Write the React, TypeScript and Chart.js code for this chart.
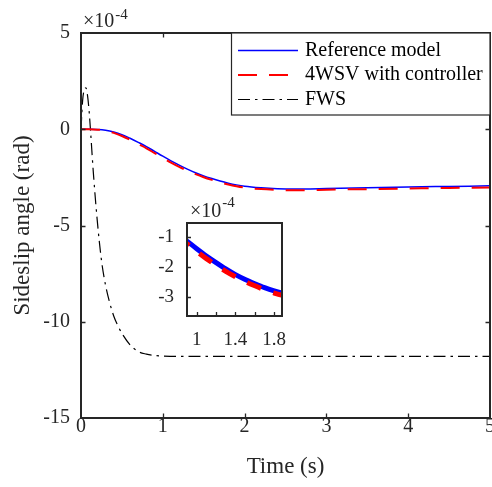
import React, { useEffect, useRef } from 'react';
import { Chart, registerables } from 'chart.js';

Chart.register(...registerables);

const FONT = "'Liberation Serif', 'Times New Roman', serif";
const AXIS_COLOR = '#262626';

// ---- data (sideslip angle in units of 1e-4 rad) ----
const modelTime = [0, 0.1, 0.2, 0.3, 0.4, 0.5, 0.6, 0.7, 0.8, 0.9, 1.0, 1.1, 1.2, 1.3, 1.4, 1.5, 1.6, 1.7, 1.8, 1.9, 2.0, 2.2, 2.4, 2.6, 2.8, 3.0, 3.5, 4.0, 4.5, 5.0];
const referenceModel = [0, 0, -0.01, -0.05, -0.14, -0.28, -0.47, -0.68, -0.9, -1.15, -1.4, -1.64, -1.86, -2.07, -2.26, -2.42, -2.56, -2.69, -2.8, -2.89, -2.96, -3.04, -3.09, -3.11, -3.1, -3.08, -3.04, -3.0, -2.97, -2.94];
const withController = [0, 0, -0.02, -0.07, -0.19, -0.35, -0.55, -0.77, -0.99, -1.24, -1.49, -1.73, -1.95, -2.15, -2.33, -2.49, -2.63, -2.76, -2.87, -2.96, -3.03, -3.11, -3.15, -3.17, -3.16, -3.14, -3.11, -3.08, -3.05, -3.03];
const fwsTime = [0, 0.02, 0.04, 0.06, 0.08, 0.1, 0.12, 0.15, 0.2, 0.25, 0.3, 0.35, 0.4, 0.45, 0.5, 0.6, 0.7, 0.8, 0.9, 1.0, 1.2, 1.5, 2.0, 3.0, 4.0, 5.0];
const fws = [0, 1.5, 2.05, 2.15, 1.75, 0.9, -0.3, -2.2, -4.8, -6.8, -8.1, -9.0, -9.7, -10.2, -10.6, -11.2, -11.55, -11.68, -11.75, -11.78, -11.8, -11.8, -11.8, -11.8, -11.8, -11.8];

const seriesLabels = ['Reference model', '4WSV with controller', 'FWS'];

// ---- ticks ----
const mainXTicks = [0, 1, 2, 3, 4, 5];
const mainYTicks = [-15, -10, -5, 0, 5];
const insetXTicks = [1, 1.2, 1.4, 1.6, 1.8];
const insetXTickLabels = ['1', '', '1.4', '', '1.8'];
const insetYTicks = [-3, -2, -1];
const exponentBase = '\u00d710';
const exponentPower = '-4';

const toPoints = (xs: number[], ys: number[]) => xs.map((x, i) => ({ x, y: ys[i] }));

function framePlugin(frameWidth: number, tickLen: number, allSides: boolean) {
  return {
    id: 'frame',
    afterDraw(chart: any) {
      const { ctx, chartArea: a, scales } = chart;
      ctx.save();
      ctx.strokeStyle = AXIS_COLOR;
      ctx.lineWidth = 1.3;
      ctx.beginPath();
      scales.x.ticks.forEach((t: any) => {
        const px = Math.round(scales.x.getPixelForValue(t.value)) + 0.5;
        if (px > a.left + 2 && px < a.right - 2) {
          ctx.moveTo(px, a.bottom);
          ctx.lineTo(px, a.bottom - tickLen);
          if (allSides) {
            ctx.moveTo(px, a.top);
            ctx.lineTo(px, a.top + tickLen);
          }
        }
      });
      scales.y.ticks.forEach((t: any) => {
        const py = Math.round(scales.y.getPixelForValue(t.value)) + 0.5;
        if (py > a.top + 2 && py < a.bottom - 2) {
          ctx.moveTo(a.left, py);
          ctx.lineTo(a.left + tickLen, py);
          if (allSides) {
            ctx.moveTo(a.right, py);
            ctx.lineTo(a.right - tickLen, py);
          }
        }
      });
      ctx.stroke();
      ctx.lineWidth = frameWidth;
      ctx.strokeRect(a.left, a.top, a.right - a.left, a.bottom - a.top);
      ctx.restore();
    },
  };
}

function exponentPlugin(x: number, baseY: number, supY: number, baseSize: number, supSize: number) {
  return {
    id: 'exponent',
    afterDraw(chart: any) {
      const { ctx } = chart;
      ctx.save();
      ctx.fillStyle = AXIS_COLOR;
      ctx.textAlign = 'left';
      ctx.textBaseline = 'alphabetic';
      ctx.font = `${baseSize}px ${FONT}`;
      ctx.fillText(exponentBase, x, baseY);
      const w = ctx.measureText(exponentBase).width;
      ctx.font = `${supSize}px ${FONT}`;
      ctx.fillText(exponentPower, x + w + 1, supY);
      ctx.restore();
    },
  };
}

const legendPlugin = {
  id: 'boxLegend',
  afterDraw(chart: any) {
    const { ctx } = chart;
    const left = 231, top = 33, right = 490, bottom = 115;
    ctx.save();
    ctx.fillStyle = '#ffffff';
    ctx.fillRect(left, top, right - left, bottom - top);
    ctx.strokeStyle = AXIS_COLOR;
    ctx.lineWidth = 1.2;
    ctx.strokeRect(left + 0.5, top, right - left - 0.5, bottom - top);
    const rowY = [50.5, 75, 99.5];
    seriesLabels.forEach((label, i) => {
      const ds = chart.data.datasets.find((d: any) => d.label === label);
      const y = rowY[i];
      ctx.beginPath();
      ctx.strokeStyle = ds.borderColor;
      ctx.lineWidth = ds.borderWidth;
      ctx.setLineDash(ds.borderDash || []);
      ctx.moveTo(238, y);
      ctx.lineTo(298, y);
      ctx.stroke();
      ctx.setLineDash([]);
      ctx.fillStyle = '#000000';
      ctx.font = `20px ${FONT}`;
      ctx.textAlign = 'left';
      ctx.textBaseline = 'middle';
      ctx.fillText(label, 305, y);
    });
    ctx.restore();
  },
};

const noPad = (s: any) => { s.paddingLeft = 0; s.paddingRight = 0; s.paddingTop = 0; s.paddingBottom = 0; };

export default function App() {
  const mainRef = useRef<HTMLCanvasElement>(null);
  const insetRef = useRef<HTMLCanvasElement>(null);

  useEffect(() => {
    const tickFont = { family: FONT, size: 20, lineHeight: 1 };
    const main = new Chart(mainRef.current as HTMLCanvasElement, {
      type: 'line',
      data: {
        datasets: [
          {
            label: seriesLabels[1],
            data: toPoints(modelTime, withController),
            borderColor: '#FF0000',
            borderWidth: 2,
            borderDash: [19, 12],
            pointRadius: 0,
            order: 0,
            cubicInterpolationMode: 'monotone',
          },
          {
            label: seriesLabels[0],
            data: toPoints(modelTime, referenceModel),
            borderColor: '#0000FF',
            borderWidth: 1.5,
            pointRadius: 0,
            order: 1,
            cubicInterpolationMode: 'monotone',
          },
          {
            label: seriesLabels[2],
            data: toPoints(fwsTime, fws),
            borderColor: '#000000',
            borderWidth: 1.2,
            borderDash: [12, 5, 2.5, 5],
            pointRadius: 0,
            order: 2,
            cubicInterpolationMode: 'monotone',
          },
        ] as any,
      },
      options: {
        animation: false,
        responsive: false,
        devicePixelRatio: 1,
        events: [],
        layout: { padding: { top: 33, right: 2, left: 0, bottom: 0 } },
        plugins: { legend: { display: false }, tooltip: { enabled: false } },
        scales: {
          x: {
            type: 'linear',
            min: 0,
            max: 5,
            afterBuildTicks: (s: any) => { s.ticks = mainXTicks.map((v) => ({ value: v })); },
            afterFit: (s: any) => { s.height = 69; noPad(s); },
            ticks: { font: tickFont, color: AXIS_COLOR, padding: -1, maxRotation: 0, autoSkip: false, callback: (v: any) => String(v) },
            grid: { display: false, drawTicks: false, tickLength: 0 },
            border: { display: false },
            title: { display: true, text: 'Time (s)', font: { family: FONT, size: 23 }, color: AXIS_COLOR, padding: { top: 0, bottom: 6 } },
          },
          y: {
            type: 'linear',
            min: -15,
            max: 5,
            afterBuildTicks: (s: any) => { s.ticks = mainYTicks.map((v) => ({ value: v })); },
            afterFit: (s: any) => { s.width = 81; noPad(s); },
            ticks: { font: tickFont, color: AXIS_COLOR, padding: 11, autoSkip: false, callback: (v: any) => String(v) },
            grid: { display: false, drawTicks: false, tickLength: 0 },
            border: { display: false },
            title: { display: true, text: 'Sideslip angle (rad)', font: { family: FONT, size: 23 }, color: AXIS_COLOR, padding: { top: 9, bottom: 0 } },
          },
        },
      } as any,
      plugins: [framePlugin(2, 4.5, true), legendPlugin, exponentPlugin(83, 27, 18.5, 20, 15)],
    });

    const insetFont = { family: FONT, size: 19, lineHeight: 1 };
    const inset = new Chart(insetRef.current as HTMLCanvasElement, {
      type: 'line',
      data: {
        datasets: [
          {
            label: seriesLabels[1],
            data: toPoints(modelTime, withController),
            borderColor: '#FF0000',
            borderWidth: 5,
            borderDash: [15, 13],
            pointRadius: 0,
            order: 0,
            cubicInterpolationMode: 'monotone',
          },
          {
            label: seriesLabels[0],
            data: toPoints(modelTime, referenceModel),
            borderColor: '#0000FF',
            borderWidth: 5,
            pointRadius: 0,
            order: 1,
            cubicInterpolationMode: 'monotone',
          },
        ] as any,
      },
      options: {
        animation: false,
        responsive: false,
        devicePixelRatio: 1,
        events: [],
        layout: { padding: { top: 33, right: 8, left: 0, bottom: 0 } },
        plugins: { legend: { display: false }, tooltip: { enabled: false } },
        scales: {
          x: {
            type: 'linear',
            min: 0.9,
            max: 1.88,
            afterBuildTicks: (s: any) => { s.ticks = insetXTicks.map((v) => ({ value: v })); },
            afterFit: (s: any) => { s.height = 44; noPad(s); },
            ticks: {
              font: insetFont, color: AXIS_COLOR, padding: 14.5, maxRotation: 0, autoSkip: false,
              callback: (v: any) => { const i = insetXTicks.findIndex((t) => Math.abs(t - v) < 1e-6); return i >= 0 ? insetXTickLabels[i] : ''; },
            },
            grid: { display: false, drawTicks: false, tickLength: 0 },
            border: { display: false },
          },
          y: {
            type: 'linear',
            min: -3.63,
            max: -0.55,
            afterBuildTicks: (s: any) => { s.ticks = insetYTicks.map((v) => ({ value: v })); },
            afterFit: (s: any) => { s.width = 57; noPad(s); },
            ticks: { font: insetFont, color: AXIS_COLOR, padding: 13, autoSkip: false, callback: (v: any) => String(v) },
            grid: { display: false, drawTicks: false, tickLength: 0 },
            border: { display: false },
          },
        },
      } as any,
      plugins: [framePlugin(2, 4, false), exponentPlugin(60, 26.5, 16.7, 20, 15)],
    });

    return () => { main.destroy(); inset.destroy(); };
  }, []);

  return (
    <div style={{ position: 'absolute', left: 0, top: 0, width: 492, height: 487, background: '#ffffff' }}>
      <canvas ref={mainRef} width={492} height={487} style={{ position: 'absolute', left: 0, top: 0, width: 492, height: 487 }} />
      <canvas ref={insetRef} width={160} height={170} style={{ position: 'absolute', left: 130, top: 190, width: 160, height: 170 }} />
    </div>
  );
}
